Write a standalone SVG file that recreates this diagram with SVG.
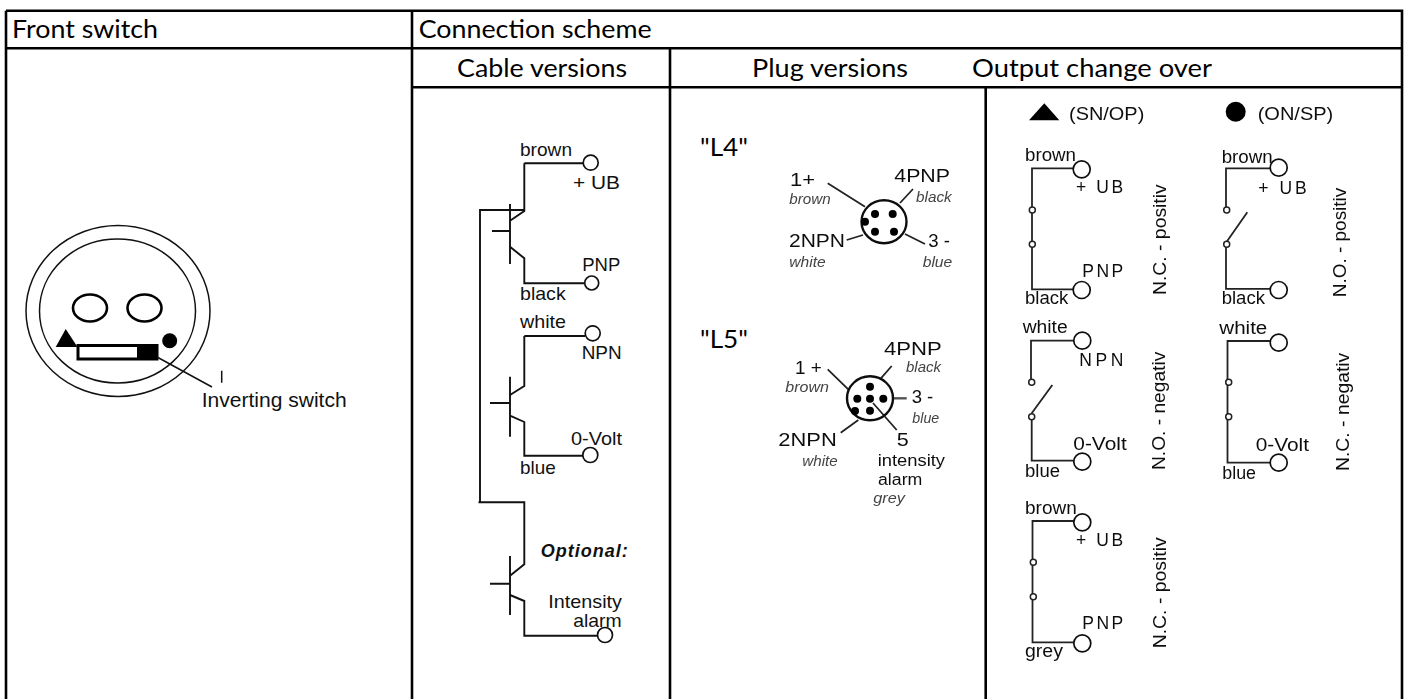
<svg xmlns="http://www.w3.org/2000/svg" width="1407" height="699" viewBox="0 0 1407 699">
<style>
.g{fill:none;stroke:#000;stroke-width:2.6}
.w{fill:none;stroke:#111;stroke-width:1.5}
.s{fill:none;stroke:#222;stroke-width:1.8}
.c{fill:#fff;stroke:#111;stroke-width:1.7}
.m{fill:#fff;stroke:#222;stroke-width:1.5}
.p{fill:#000}
text{font-family:"Liberation Sans",Arial,sans-serif;font-size:19px;fill:#111}
.h{font-family:Lato,"Liberation Sans",sans-serif;font-size:25px;fill:#000}
.i{font-style:italic;font-size:15px;fill:#444}
.o{font-size:17.5px}
.b{font-weight:bold;font-style:italic;font-size:18px}
.t{font-size:16px}
</style>
<defs>
<filter id="soft" x="-5%" y="-5%" width="110%" height="110%"><feGaussianBlur stdDeviation="0.6"/></filter>
</defs>
<g id="table">
<path class="g" d="M6 10.7H1402V699M6 10.7V699M6 48.3H1402M412 10.7V699M412 87.3H1402M670 48.3V699M985.7 87.3V699"/>
<text class="h" x="12" y="38.3" textLength="146" lengthAdjust="spacingAndGlyphs">Front switch</text>
<text class="h" x="418.7" y="38.3" textLength="233" lengthAdjust="spacingAndGlyphs">Connection scheme</text>
<text class="h" x="457" y="77.3" textLength="170" lengthAdjust="spacingAndGlyphs">Cable versions</text>
<text class="h" x="752" y="77.3" textLength="156" lengthAdjust="spacingAndGlyphs">Plug versions</text>
<text class="h" x="972" y="77.3" textLength="240" lengthAdjust="spacingAndGlyphs">Output change over</text>
<text class="h" x="700" y="155.7" textLength="48" lengthAdjust="spacingAndGlyphs">"L4"</text>
<text class="h" x="700" y="348.3" textLength="48" lengthAdjust="spacingAndGlyphs">"L5"</text>
</g>
<g id="front-switch">
<ellipse class="w" cx="118" cy="311" rx="92" ry="85.5"/>
<ellipse class="w" cx="117.5" cy="311" rx="78" ry="72"/>
<ellipse cx="90" cy="308" rx="17" ry="13.5" fill="#fff" stroke="#000" stroke-width="2.6"/>
<ellipse cx="144.5" cy="308" rx="17" ry="13.5" fill="#fff" stroke="#000" stroke-width="2.6"/>
<path class="p" d="M65.7 329L55.7 347H77.5Z"/>
<rect x="78" y="345.5" width="79" height="13.5" fill="#fff" stroke="#000" stroke-width="3"/>
<rect class="p" x="137" y="344" width="20" height="16"/>
<circle class="p" cx="169.7" cy="340.7" r="7.5"/>
<path class="w" d="M157 357L212 387M221.7 370.7V382.7"/>
<text x="201.7" y="406.7" style="font-size:20px" textLength="145" lengthAdjust="spacingAndGlyphs">Inverting switch</text>
</g>
<g id="cable-versions">
<path class="s" d="M524.3 163.3H583M524.3 163.3V211L510 220.7M510 204V264M492 231H510M510 246.7L524.3 258.3V283.3H584M480 502.3V210H524.3M524.3 336H585M524.3 336V386L510 395M510 376.7V436.7M490 403H510M510 415.7L524.3 422V455.7H583M478.5 502.3H524.3V564.3L510 575.7M510 556V615M490 583.7H510M510 595L524.3 601V635.7H598" style="stroke-width:1.9;stroke:#111"/>
<circle class="c" cx="590.7" cy="162.7" r="7.5"/>
<circle class="c" cx="591.7" cy="283" r="7"/>
<circle class="c" cx="592.7" cy="333.3" r="7.5"/>
<circle class="c" cx="590.3" cy="455" r="7.5"/>
<circle class="c" cx="605" cy="635" r="7.5"/>
<text x="520" y="156" textLength="52" lengthAdjust="spacingAndGlyphs">brown</text>
<text x="573" y="189" textLength="47" lengthAdjust="spacingAndGlyphs">+ UB</text>
<text x="582.3" y="271.3" textLength="38" lengthAdjust="spacingAndGlyphs">PNP</text>
<text x="520" y="300" textLength="45.7" lengthAdjust="spacingAndGlyphs">black</text>
<text x="520" y="328" textLength="46" lengthAdjust="spacingAndGlyphs">white</text>
<text x="581.7" y="358.7" textLength="40" lengthAdjust="spacingAndGlyphs">NPN</text>
<text x="571" y="445" textLength="51" lengthAdjust="spacingAndGlyphs">0-Volt</text>
<text x="520" y="474" textLength="35.7" lengthAdjust="spacingAndGlyphs">blue</text>
<text class="b" x="540.7" y="556.7" textLength="87" lengthAdjust="spacing">Optional:</text>
<text x="548.3" y="607.7" textLength="73.7" lengthAdjust="spacingAndGlyphs">Intensity</text>
<text x="573.3" y="627.3" textLength="48.4" lengthAdjust="spacingAndGlyphs">alarm</text>
</g>
<g id="plug-l4" filter="url(#soft)">
<path class="s" d="M827.7 183.3L865 206.7M913 189L900 203M846.7 240L863 235M905 234L925 244"/>
<ellipse cx="884" cy="221.7" rx="22.5" ry="21.5" fill="#fff" stroke="#111" stroke-width="2.4"/>
<g class="p"><circle cx="875" cy="214" r="4"/><circle cx="892.7" cy="214" r="4"/><circle cx="865" cy="221.7" r="4"/><circle cx="875" cy="231.7" r="4"/><circle cx="894" cy="231.7" r="4"/></g>
<text class="o" x="790" y="186" textLength="25" lengthAdjust="spacingAndGlyphs">1+</text>
<text class="i" x="789.3" y="204" textLength="41.4" lengthAdjust="spacingAndGlyphs">brown</text>
<text class="o" x="894.3" y="181.7" textLength="55.7" lengthAdjust="spacingAndGlyphs">4PNP</text>
<text class="i" x="916" y="202" textLength="35.7" lengthAdjust="spacingAndGlyphs">black</text>
<text class="o" x="789" y="246.7" textLength="56" lengthAdjust="spacingAndGlyphs">2NPN</text>
<text class="i" x="789.3" y="266.7" textLength="36.4" lengthAdjust="spacingAndGlyphs">white</text>
<text class="o" x="928.3" y="246.7" textLength="21.7" lengthAdjust="spacingAndGlyphs">3 -</text>
<text class="i" x="922.7" y="266.7" textLength="29.6" lengthAdjust="spacingAndGlyphs">blue</text>
</g>
<g id="plug-l5" filter="url(#soft)">
<path class="s" d="M827.7 369.3L848.3 389.3M891.7 366L880 379.3M840.7 432.7L858.3 420M873 403L896.7 430"/>
<path d="M893.3 398.3H906.7" fill="none" stroke="#555" stroke-width="2.4"/>
<ellipse cx="870" cy="398.3" rx="23" ry="22" fill="none" stroke="#111" stroke-width="2.4"/>
<g class="p"><circle cx="870" cy="386.7" r="4"/><circle cx="857.3" cy="398.7" r="4"/><circle cx="870" cy="398.7" r="4"/><circle cx="883.3" cy="398.7" r="4"/><circle cx="855" cy="411" r="4"/><circle cx="870" cy="410.7" r="4"/></g>
<text class="o" x="884" y="355" textLength="57.7" lengthAdjust="spacingAndGlyphs">4PNP</text>
<text class="i" x="906" y="372.3" textLength="35" lengthAdjust="spacingAndGlyphs">black</text>
<text class="o" x="795" y="374.3" textLength="26.7" lengthAdjust="spacingAndGlyphs">1 +</text>
<text class="i" x="785.3" y="391.7" textLength="43.7" lengthAdjust="spacingAndGlyphs">brown</text>
<text class="o" x="911.7" y="403.3" textLength="21.6" lengthAdjust="spacingAndGlyphs">3 -</text>
<text class="i" x="912.3" y="422.7" textLength="27" lengthAdjust="spacingAndGlyphs">blue</text>
<text class="o" x="778.3" y="446" textLength="58.4" lengthAdjust="spacingAndGlyphs">2NPN</text>
<text class="i" x="802.3" y="465.7" textLength="35.4" lengthAdjust="spacingAndGlyphs">white</text>
<text class="o" x="896.7" y="446" textLength="12" lengthAdjust="spacingAndGlyphs">5</text>
<text class="t" x="877.7" y="466" textLength="67.3" lengthAdjust="spacingAndGlyphs">intensity</text>
<text class="t" x="878" y="485.3" textLength="44.3" lengthAdjust="spacingAndGlyphs">alarm</text>
<text class="i" x="873.3" y="503.3" textLength="31.7" lengthAdjust="spacingAndGlyphs">grey</text>
</g>
<g id="legend" filter="url(#soft)">
<path class="p" d="M1044.3 103.3L1029 120.3H1059.3Z"/>
<text class="o" x="1069" y="120" textLength="75.3" lengthAdjust="spacingAndGlyphs">(SN/OP)</text>
<circle class="p" cx="1235.7" cy="111.7" r="10"/>
<text class="o" x="1257.7" y="120" textLength="75.6" lengthAdjust="spacingAndGlyphs">(ON/SP)</text>
</g>
<g id="output-pnp-nc" filter="url(#soft)">
<path class="s" d="M1073 168.3H1032V289.3H1073"/>
<circle class="m" cx="1032.3" cy="210" r="3"/><circle class="m" cx="1032.3" cy="244.3" r="3"/>
<circle class="c" cx="1081.7" cy="169.3" r="8.5"/><circle class="c" cx="1081.7" cy="290" r="8.5"/>
<text class="o" x="1025" y="160.7" textLength="51" lengthAdjust="spacingAndGlyphs">brown</text>
<text class="o" x="1076" y="192.7" textLength="47.3" lengthAdjust="spacing">+ UB</text>
<text class="o" x="1082.3" y="277" textLength="41" lengthAdjust="spacing">PNP</text>
<text class="o" x="1025" y="304.3" textLength="43.3" lengthAdjust="spacingAndGlyphs">black</text>
<text class="o" transform="translate(1165.7 295) rotate(-90)" textLength="110.7" lengthAdjust="spacingAndGlyphs">N.C. - positiv</text>
</g>
<g id="output-pnp-no" filter="url(#soft)">
<path class="s" d="M1270 168.3H1226V207.7M1226 247V288.8H1270M1226.7 241.7L1247.3 212.3"/>
<circle class="m" cx="1226.7" cy="210" r="3"/><circle class="m" cx="1226.7" cy="244.3" r="3"/>
<circle class="c" cx="1278.7" cy="167.7" r="8.5"/><circle class="c" cx="1278.7" cy="290" r="8.5"/>
<text class="o" x="1221.7" y="162.7" textLength="51" lengthAdjust="spacingAndGlyphs">brown</text>
<text class="o" x="1258.3" y="194.3" textLength="48.4" lengthAdjust="spacing">+ UB</text>
<text class="o" x="1221.7" y="304.3" textLength="43.3" lengthAdjust="spacingAndGlyphs">black</text>
<text class="o" transform="translate(1345.7 297.3) rotate(-90)" textLength="109.6" lengthAdjust="spacingAndGlyphs">N.O. - positiv</text>
</g>
<g id="output-npn-no" filter="url(#soft)">
<path class="s" d="M1074 340.7H1031V379.3M1031.7 420V460.7H1074M1031.7 413.3L1052.3 385"/>
<circle class="m" cx="1031.7" cy="382.3" r="3"/><circle class="m" cx="1031.7" cy="416.7" r="3"/>
<circle class="c" cx="1082.3" cy="340.7" r="8.5"/><circle class="c" cx="1082.3" cy="461.7" r="8.5"/>
<text class="o" x="1022.7" y="333.3" textLength="45" lengthAdjust="spacingAndGlyphs">white</text>
<text class="o" x="1079.3" y="365.7" textLength="44" lengthAdjust="spacing">NPN</text>
<text class="o" x="1073.3" y="450" textLength="53.4" lengthAdjust="spacingAndGlyphs">0-Volt</text>
<text class="o" x="1025" y="476.7" textLength="35" lengthAdjust="spacingAndGlyphs">blue</text>
<text class="o" transform="translate(1165 470) rotate(-90)" textLength="118.3" lengthAdjust="spacingAndGlyphs">N.O. - negativ</text>
</g>
<g id="output-npn-nc" filter="url(#soft)">
<path class="s" d="M1270 341H1227.5V462.7H1270"/>
<circle class="m" cx="1228.7" cy="382.3" r="3"/><circle class="m" cx="1228.7" cy="416.7" r="3"/>
<circle class="c" cx="1278.7" cy="342.7" r="8.5"/><circle class="c" cx="1278.7" cy="462.7" r="8.5"/>
<text class="o" x="1219.3" y="334" textLength="48" lengthAdjust="spacingAndGlyphs">white</text>
<text class="o" x="1255.7" y="450.7" textLength="53.3" lengthAdjust="spacingAndGlyphs">0-Volt</text>
<text class="o" x="1222.3" y="479.3" textLength="33.7" lengthAdjust="spacingAndGlyphs">blue</text>
<text class="o" transform="translate(1349 471) rotate(-90)" textLength="118.3" lengthAdjust="spacingAndGlyphs">N.C. - negativ</text>
</g>
<g id="output-grey-nc" filter="url(#soft)">
<path class="s" d="M1074 521H1032.5V642.3H1074"/>
<circle class="m" cx="1033.3" cy="562.3" r="3"/><circle class="m" cx="1033.3" cy="596.7" r="3"/>
<circle class="c" cx="1082.3" cy="522.3" r="8.5"/><circle class="c" cx="1082.3" cy="643.3" r="8.5"/>
<text class="o" x="1025" y="514" textLength="51.7" lengthAdjust="spacingAndGlyphs">brown</text>
<text class="o" x="1076" y="545.7" textLength="47.3" lengthAdjust="spacing">+ UB</text>
<text class="o" x="1082.3" y="629" textLength="41" lengthAdjust="spacing">PNP</text>
<text class="o" x="1025" y="657" textLength="38" lengthAdjust="spacingAndGlyphs">grey</text>
<text class="o" transform="translate(1165.7 648.3) rotate(-90)" textLength="111" lengthAdjust="spacingAndGlyphs">N.C. - positiv</text>
</g>
</svg>
